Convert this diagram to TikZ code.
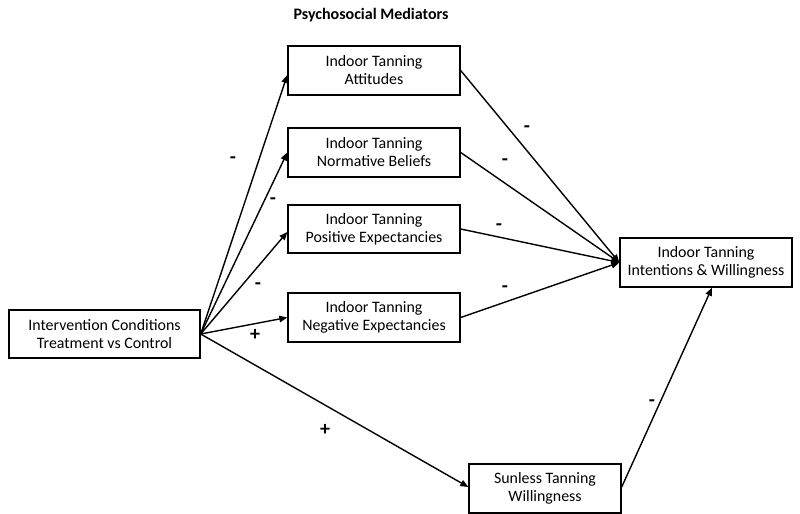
\documentclass[tikz,border=0pt]{standalone}
\usepackage{fontspec}
\setmainfont{Carlito}
\usetikzlibrary{arrows.meta,calc}
\begin{document}
\begin{tikzpicture}[x=1bp,y=-1bp,
  box/.style={draw,line width=1.4bp,inner sep=0pt,align=center,font=\fontsize{15.9bp}{18bp}\selectfont},
  arr/.style={line width=1.4bp,-{Triangle[length=8bp,width=6.5bp]}},
  sign/.style={font=\fontsize{20bp}{20bp}\selectfont\bfseries,inner sep=0pt}]
\useasboundingbox (0,0) rectangle (800,514);
\node[font=\fontsize{16bp}{18bp}\selectfont\bfseries] (title) at (371,15) {Psychosocial Mediators};
\node[box,minimum width=191bp,minimum height=48bp] (src) at (104.5,334) {Intervention Conditions\\Treatment vs Control};
\node[box,minimum width=172bp,minimum height=49bp] (att) at (374,70.5) {Indoor Tanning\\Attitudes};
\node[box,minimum width=172bp,minimum height=49bp] (nor) at (374,152.5) {Indoor Tanning\\Normative Beliefs};
\node[box,minimum width=172bp,minimum height=48bp] (pos) at (374,229) {Indoor Tanning\\Positive Expectancies};
\node[box,minimum width=172bp,minimum height=49bp] (neg) at (374,317.5) {Indoor Tanning\\Negative Expectancies};
\node[box,minimum width=172bp,minimum height=49bp] (out) at (706,262.5) {Indoor Tanning\\Intentions \& Willingness};
\node[box,minimum width=152bp,minimum height=49bp] (sun) at (545,488.5) {Sunless Tanning\\Willingness};
% arrows from source
\draw[arr] (src.east) -- ($(att.west)+(0,4.5)$);
\draw[arr] (src.east) -- (nor.west);
\draw[arr] (src.east) -- ($(pos.west)+(0,3)$);
\draw[arr] (src.east) -- (neg.west);
\draw[arr] (src.east) -- ($(sun.west)+(0,-1.5)$);
% mediators to outcome
\draw[arr] (att.east) -- (out.west);
\draw[arr] (nor.east) -- (out.west);
\draw[arr] (pos.east) -- (out.west);
\draw[arr] (neg.east) -- (out.west);
\draw[arr] ($(sun.east)+(0,-1.5)$) -- ($(out.south)+(6,0)$);
% signs
\node[sign] (s1) at (233,160) {-};
\node[sign] (s2) at (273,201) {-};
\node[sign] (s3) at (258,286) {-};
\node[sign] (s4) at (255,335) {+};
\node[sign] (s5) at (325,430) {+};
\node[sign] (s6) at (527,129) {-};
\node[sign] (s7) at (505,162) {-};
\node[sign] (s8) at (499,227) {-};
\node[sign] (s9) at (505,289) {-};
\node[sign] (s10) at (652,403) {-};
\end{tikzpicture}
\end{document}
